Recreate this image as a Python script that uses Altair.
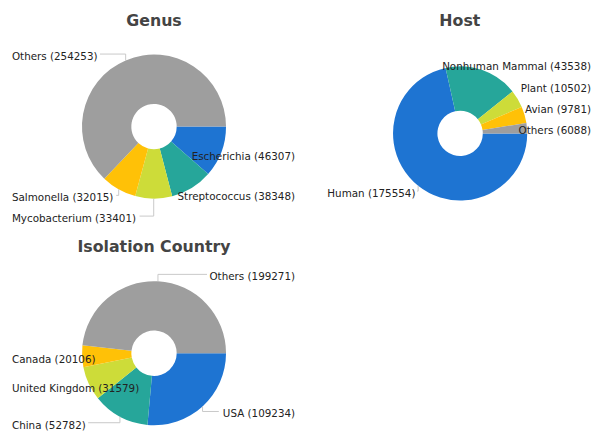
import math
import altair as alt
import pandas as pd

# ---- data ----
genus_names = ["Escherichia", "Streptococcus", "Mycobacterium", "Salmonella", "Others"]
genus_counts = [46307, 38348, 33401, 32015, 254253]

host_names = ["Human", "Nonhuman Mammal", "Plant", "Avian", "Others"]
host_counts = [175554, 43538, 10502, 9781, 6088]

country_names = ["USA", "China", "United Kingdom", "Canada", "Others"]
country_counts = [109234, 52782, 31579, 20106, 199271]

palette = ["#1E74D2", "#26A69A", "#CDDC39", "#FFC107", "#9E9E9E"]

FONT = "DejaVu Sans"
LABEL_SIZE = 10.5
GAP = 21
INNER = 23


def cnt(pat):
    return f"(length(datum.label) - length(replace(datum.label, regexp('{pat}', 'g'), '')))"


TEXT_W = (
    f"{LABEL_SIZE}*(0.636*{cnt('[0-9]')} + 0.318*{cnt(' ')} + 0.39*{cnt('[()]')}"
    f" + 0.278*{cnt('[ilj]')} + 0.39*{cnt('[trf]')} + 0.95*{cnt('[mwMW]')}"
    f" + 0.72*{cnt('[A-LN-VX-Z]')} + 0.6*{cnt('[a-hknopqsuvxyz]')})"
)


def panel(title, names, counts, R, xdom, ydom, lab_left, lab_right):
    df = pd.DataFrame({"name": names, "n": counts, "idx": list(range(len(names)))})
    w = xdom[1] - xdom[0]
    h = ydom[1] - ydom[0]
    xs = alt.Scale(domain=xdom, nice=False, zero=False)
    ys = alt.Scale(domain=ydom, nice=False, zero=False, reverse=True)

    arc = alt.Chart(df).mark_arc(outerRadius=R, innerRadius=INNER).encode(
        theta=alt.Theta("n:Q", stack=True,
                        scale=alt.Scale(range=[math.pi / 2, math.pi / 2 + 2 * math.pi])),
        order=alt.Order("idx:Q"),
        color=alt.Color("idx:N", scale=alt.Scale(domain=list(range(5)), range=palette),
                        legend=None),
        x=alt.X(datum=0, type="quantitative", scale=xs, axis=None),
        y=alt.Y(datum=0, type="quantitative", scale=ys, axis=None),
    )

    base = (
        alt.Chart(df)
        .transform_joinaggregate(total="sum(n)")
        .transform_window(cum="sum(n)", sort=[alt.SortField("idx")], frame=[None, 0])
        .transform_calculate(mid="PI/2 + 2*PI*(datum.cum - datum.n/2)/datum.total")
        .transform_calculate(
            side="sin(datum.mid) >= 0 ? 'right' : 'left'",
            label="datum.name + ' (' + datum.n + ')'",
            ex=f"{R}*sin(datum.mid)",
            ey=f"-{R}*cos(datum.mid)",
            ly0=f"-{R + 7}*cos(datum.mid) + 3",
        )
        .transform_window(rank="row_number()", groupby=["side"], sort=[alt.SortField("ly0")])
        .transform_calculate(z=f"datum.ly0 - datum.rank*{GAP}")
        .transform_window(zmax="max(z)", frame=[None, 0], groupby=["side"],
                          sort=[alt.SortField("ly0")])
        .transform_window(zmin="min(z)", frame=[0, None], groupby=["side"],
                          sort=[alt.SortField("ly0")])
        .transform_calculate(
            ly=f"datum.rank*{GAP} + (datum.side == 'left' ? datum.zmax : datum.zmin)",
            lx=f"datum.side == 'left' ? {lab_left} : {lab_right}",
            tw=TEXT_W,
        )
        .transform_calculate(
            lxe=f"datum.side == 'left' ? {lab_left} + datum.tw + 3 : {lab_right} - datum.tw - 3",
            cy="datum.ly - 3",
        )
    )

    lines = (
        base.transform_filter(
            "datum.side == 'left' ? (datum.lxe < datum.ex) : (datum.lxe > datum.ex)")
        .transform_calculate(step="[0, 1, 2]")
        .transform_flatten(["step"])
        .transform_calculate(
            px="datum.step == 2 ? datum.lxe : datum.ex",
            py="datum.step == 0 ? datum.ey : datum.cy",
        )
        .mark_line(color="#c8c8c8", strokeWidth=1)
        .encode(
            x=alt.X("px:Q", scale=xs, axis=None),
            y=alt.Y("py:Q", scale=ys, axis=None),
            detail="name:N",
            order="step:Q",
        )
    )

    def texts(side, align):
        return (
            base.transform_filter(f"datum.side == '{side}'")
            .mark_text(align=align, baseline="middle", font=FONT, fontSize=LABEL_SIZE,
                       color="#222222")
            .encode(
                x=alt.X("lx:Q", scale=xs, axis=None),
                y=alt.Y("ly:Q", scale=ys, axis=None),
                text="label:N",
            )
        )

    return alt.layer(arc, lines, texts("left", "left"), texts("right", "right")).properties(
        width=w,
        height=h,
        title=alt.TitleParams(text=title, font=FONT, fontSize=16, fontWeight="bold",
                              color="#444444", anchor="middle", offset=4),
    )


genus = panel("Genus", genus_names, genus_counts, 73,
              [-146, 146], [-95.3, 104.7], -144, 143)
host = panel("Host", host_names, host_counts, 68,
             [-135.3, 134.7], [-102.2, 97.8], -134.6, 132.7)
country = panel("Isolation Country", country_names, country_counts, 73,
                [-146, 146], [-96, 77], -144, 143)

top = alt.hconcat(genus, host, spacing=29).resolve_scale(
    theta="independent", x="independent", y="independent")
chart = (
    alt.vconcat(top, country, spacing=9)
    .resolve_scale(theta="independent", x="independent", y="independent")
    .properties(padding={"left": 2, "top": 2, "right": 0, "bottom": 0})
    .configure_view(stroke=None)
)

chart.save("out.html", embed_options={"renderer": "svg", "actions": False})
